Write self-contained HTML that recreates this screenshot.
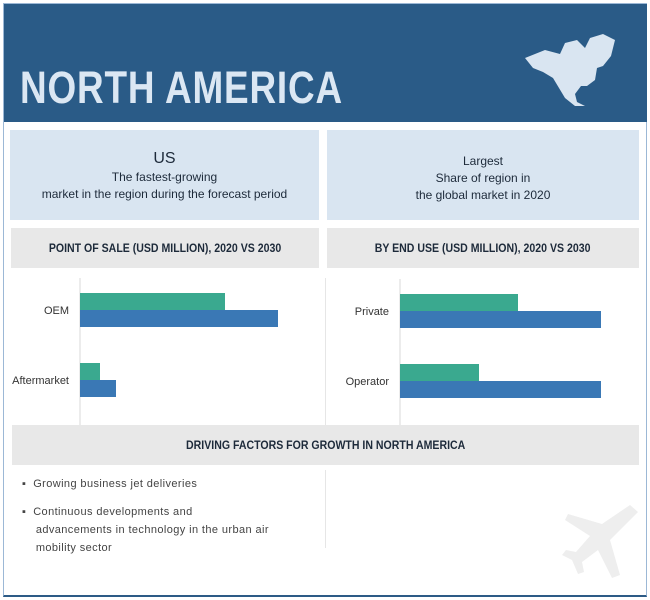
<!DOCTYPE html>
<html><head><meta charset="utf-8"><style>
body{margin:0;width:650px;height:600px;background:#fff;font-family:"Liberation Sans",sans-serif;position:relative;overflow:hidden}
.a{position:absolute}
.frame{left:3px;top:3px;width:642px;height:591px;border:1px solid #9cb8d6;border-bottom:2px solid #2d5b86}
.hdr{left:4px;top:4px;width:643px;height:118px;background:#2a5b87}
.title{left:20px;top:62px;font-size:45px;font-weight:bold;color:#dbe7f3;transform:scaleX(0.82);transform-origin:left top;letter-spacing:1px;white-space:nowrap}
.box{background:#d9e5f1;color:#1d2a3a;text-align:center;font-size:12px}
.gh{background:#e8e8e8;color:#1d2a3a;font-weight:bold;font-size:12px;text-align:center;line-height:40px}
.gh span{display:inline-block;transform:scaleX(0.88)}
.bul{font-size:11px;color:#444;line-height:18px;letter-spacing:0.4px}
</style></head><body>
<div class="a frame"></div>
<div class="a hdr"></div>
<div class="a title">NORTH AMERICA</div>
<svg class="a" style="left:515px;top:28px" width="105" height="80">
<path d="M10 30 L30 22 L45 26 L50 15 L62 12 L70 20 L75 10 L88 6 L100 12 L96 28 L88 38 L82 40 L80 52 L72 58 L66 58 L60 66 L62 74 L70 78 L60 78 L50 70 L44 60 L38 50 L28 44 L18 40 Z" fill="#d9e5f1"/>
</svg>
<div class="a box" style="left:10px;top:130px;width:309px;height:90px">
<div style="font-size:16px;margin-top:20px">US</div><div style="margin-top:2px">The fastest-growing</div><div style="margin-top:3px">market in the region during the forecast period</div></div>
<div class="a box" style="left:327px;top:130px;width:312px;height:90px">
<div style="margin-top:24px">Largest</div><div style="margin-top:3px">Share of region in</div><div style="margin-top:3px">the global market in 2020</div></div>
<div class="a gh" style="left:11px;top:228px;width:308px;height:40px"><span>POINT OF SALE (USD MILLION), 2020 VS 2030</span></div>
<div class="a gh" style="left:327px;top:228px;width:312px;height:40px"><span>BY END USE (USD MILLION), 2020 VS 2030</span></div>
<svg class="a" style="left:0;top:0" width="650" height="470" id="charts"></svg>
<div class="a" style="left:325px;top:278px;width:1px;height:178px;background:#e6e6e6"></div>
<div class="a gh" style="left:12px;top:425px;width:627px;height:40px"><span>DRIVING FACTORS FOR GROWTH IN NORTH AMERICA</span></div>
<div class="a" style="left:325px;top:470px;width:1px;height:78px;background:#e6e6e6"></div>
<div class="a bul" style="left:22px;top:475px">▪&nbsp; Growing business jet deliveries</div>
<div class="a bul" style="left:22px;top:503px">▪&nbsp; Continuous developments and<br>&nbsp;&nbsp;&nbsp;&nbsp;advancements in technology in the urban air<br>&nbsp;&nbsp;&nbsp;&nbsp;mobility sector</div>
<svg class="a" style="left:560px;top:500px" width="80" height="80">
<path d="M70 5 L78 12 L50 40 L60 75 L52 78 L38 50 L22 62 L24 72 L18 74 L12 60 L2 55 L6 50 L16 52 L30 36 L5 20 L8 14 L42 24 Z" fill="#eeeeee"/></svg>
<script>
const posCats=["OEM","Aftermarket"];
const pos2020=[72.5,10];
const pos2030=[99,18];
const useCats=["Private","Operator"];
const use2020=[59,39.5];
const use2030=[100.5,100.5];
const NS="http://www.w3.org/2000/svg";
const svg=document.getElementById('charts');
function mk(t,a){const e=document.createElementNS(NS,t);for(const k in a)e.setAttribute(k,a[k]);svg.appendChild(e);return e;}
function chart(x0,yTop,cats,a,b,key){
  const xs=v=>x0+v*2;
  const step=70;
  const ax=mk('line',{x1:x0,x2:x0,y1:yTop-15,y2:yTop+160,stroke:'#d8d8d8'});
  
  
  cats.forEach((c,i)=>{
    const y=yTop+i*step;
    const g=mk('rect',{x:x0,y:y,width:xs(a[i])-x0,height:17,fill:'#3aa98f'});
    
    
    const bl=mk('rect',{x:x0,y:y+17,width:xs(b[i])-x0,height:17,fill:'#3a78b5'});
    
    
    const t=mk('text',{x:x0-11,y:y+21,'text-anchor':'end','font-size':'11','fill':'#333','font-family':'Liberation Sans, sans-serif'});
    t.textContent=c;
    
    
  });
}
chart(80,293,posCats,pos2020,pos2030,'point-of-sale');
chart(400,294,useCats,use2020,use2030,'end-use');
</script>
</body></html>
